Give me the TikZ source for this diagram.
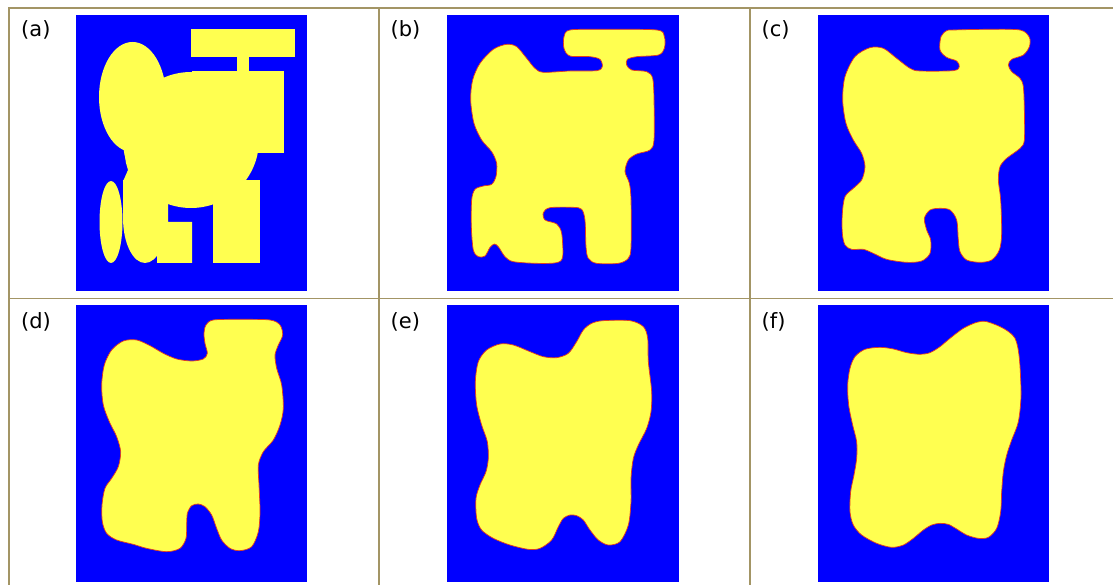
\documentclass[tikz,border=0pt]{standalone}
\usepackage{fontspec}
\setmainfont{DejaVu Sans}
\definecolor{gridc}{RGB}{163,149,101}
\definecolor{bluebg}{RGB}{0,0,255}
\definecolor{yel}{RGB}{255,255,80}
\definecolor{edge}{RGB}{225,60,30}
\tikzset{
  panel/.style={fill=bluebg},
  blob/.style={fill=yel, draw=edge, line width=0.7pt},
  flat/.style={fill=yel},
  gridline/.style={draw=gridc, line width=1.6pt},
  lbl/.style={anchor=base west, inner sep=0pt, font=\fontsize{21}{25}\selectfont}
}
\begin{document}
\begin{tikzpicture}[x=1pt,y=-1pt]
\useasboundingbox (0,0) rectangle (1113,585);
\fill[white] (0,0) rectangle (1113,585);
% panels
\fill[panel] (76,15) rectangle (307,291);
\fill[panel] (447,15) rectangle (679,291);
\fill[panel] (818,15) rectangle (1049,291);
\fill[panel] (76,305) rectangle (307,582);
\fill[panel] (447,305) rectangle (679,582);
\fill[panel] (818,305) rectangle (1049,582);
% (a) primitive shapes
\fill[flat] (191,29) rectangle (295,57);
\fill[flat] (237,56) rectangle (249,72);
\fill[flat] (192,71) rectangle (284,153);
\fill[flat] (132.5,97) ellipse [x radius=33.5, y radius=55];
\fill[flat] (191,140) circle [radius=68];
\fill[flat] (213,180) rectangle (260,263);
\fill[flat] (157,195) -- (168,195) -- (168,222) -- (192,222) -- (192,263) -- (157,263) -- cycle;
\fill[flat] (111,222) ellipse [x radius=11.5, y radius=41];
\fill[flat] (145,218) ellipse [x radius=22, y radius=45];
\fill[flat] (123.2,180) rectangle (158,218);
\fill[flat] (124,150) -- (126,163) -- (128,170) -- (123.2,181) -- (145,181) -- (145,150) -- cycle;
% (b)
\begin{scope}[shift={(370,0)}, scale=1/3]
\draw[blob] plot[smooth cycle, tension=0.5] coordinates {
(600,90) (700,88) (860,90) (883,110) (883,145) (865,165) (800,170) (772,178) (770,195) (785,210) (830,215) (848,235) (852,300) (852,420) (840,450) (800,462) (775,480) (765,515) (778,550) (783,600) (783,740) (775,775) (745,790) (680,790) (655,775) (648,740) (645,660) (635,628) (610,622) (540,623) (520,638) (525,660) (560,672) (575,700) (578,770) (560,788) (500,790) (430,785) (405,770) (385,740) (373,732) (360,742) (345,768) (325,770) (310,750) (304,680) (305,600) (315,568) (340,558) (365,553) (378,530) (380,490) (365,455) (335,420) (312,370) (302,300) (308,240) (330,190) (370,148) (410,133) (440,140) (470,175) (495,205) (520,217) (600,213) (680,212) (697,200) (690,178) (660,170) (600,168) (582,145) (582,110)};
\end{scope}
% (c)
\begin{scope}[shift={(740,0)}, scale=1/3]
\draw[blob] plot[smooth cycle, tension=0.5] coordinates {
(640,90) (740,88) (840,90) (868,112) (868,140) (850,165) (815,178) (805,195) (815,215) (840,235) (850,260) (853,330) (853,420) (840,445) (800,475) (780,500) (775,540) (782,600) (785,700) (778,750) (755,780) (720,787) (680,780) (660,755) (655,720) (650,660) (630,630) (600,625) (570,630) (553,655) (560,690) (572,720) (570,760) (545,783) (500,787) (440,778) (400,760) (370,748) (335,748) (315,735) (307,700) (307,640) (315,590) (340,565) (365,540) (375,500) (365,460) (340,420) (318,370) (308,300) (315,230) (345,170) (390,143) (430,145) (470,175) (510,205) (540,213) (640,212) (658,200) (650,183) (620,172) (600,150) (603,110) (620,92)};
\end{scope}
% (d)
\begin{scope}[shift={(0,285)}, scale=1/3]
\draw[blob] plot[smooth cycle, tension=0.5] coordinates {
(640,105) (720,103) (810,105) (840,120) (848,150) (835,180) (825,210) (830,250) (845,300) (850,370) (840,420) (820,465) (790,500) (775,540) (777,600) (780,680) (775,740) (755,785) (720,797) (690,790) (665,765) (650,730) (635,690) (615,665) (595,657) (575,662) (562,685) (560,720) (558,760) (540,790) (500,800) (440,790) (400,778) (350,765) (320,745) (307,710) (306,660) (315,610) (335,580) (355,545) (362,500) (350,455) (328,410) (310,360) (305,300) (313,240) (335,195) (370,168) (410,165) (450,182) (490,205) (530,222) (575,228) (610,222) (622,205) (615,175) (612,145) (618,120)};
\end{scope}
% (e)
\begin{scope}[shift={(370,285)}, scale=1/3]
\draw[blob] plot[smooth cycle, tension=0.5] coordinates {
(700,107) (780,107) (820,125) (833,160) (835,230) (845,320) (843,380) (830,430) (805,480) (790,520) (783,580) (783,650) (775,720) (750,770) (715,780) (685,765) (660,735) (640,705) (620,692) (600,690) (580,700) (565,725) (545,765) (510,790) (475,793) (420,780) (370,760) (335,735) (320,700) (318,640) (330,600) (348,560) (355,520) (352,470) (335,420) (320,360) (316,290) (325,230) (350,195) (390,177) (430,180) (480,200) (520,215) (560,218) (595,205) (620,170) (640,135) (665,115)};
\end{scope}
% (f)
\begin{scope}[shift={(740,285)}, scale=1/3]
\draw[blob] plot[smooth cycle, tension=0.5] coordinates {
(740,110) (790,130) (825,160) (838,220) (843,330) (835,410) (815,465) (800,510) (790,560) (785,620) (782,680) (770,730) (745,757) (715,760) (680,750) (650,732) (625,718) (600,715) (575,720) (550,735) (520,760) (490,780) (455,787) (410,775) (365,750) (340,720) (330,680) (332,620) (342,570) (350,520) (350,470) (338,420) (326,360) (323,300) (330,250) (345,215) (375,193) (420,187) (460,192) (500,203) (540,208) (570,203) (600,185) (630,160) (670,130) (710,112)};
\end{scope}
% grid
\draw[gridline] (1113,8) -- (8.8,8) -- (8.8,585);
\draw[gridline] (8.8,298.5) -- (1113,298.5);
\draw[gridline] (379,8) -- (379,585);
\draw[gridline] (750,8) -- (750,585);
% labels
\node[lbl] (la) at (21,37) {(a)};
\node[lbl] (lb) at (390.5,37) {(b)};
\node[lbl] (lc) at (761.5,37) {(c)};
\node[lbl] (ld) at (21,328) {(d)};
\node[lbl] (le) at (390.5,328) {(e)};
\node[lbl] (lf) at (761.5,328) {(f)};
\end{tikzpicture}
\end{document}
